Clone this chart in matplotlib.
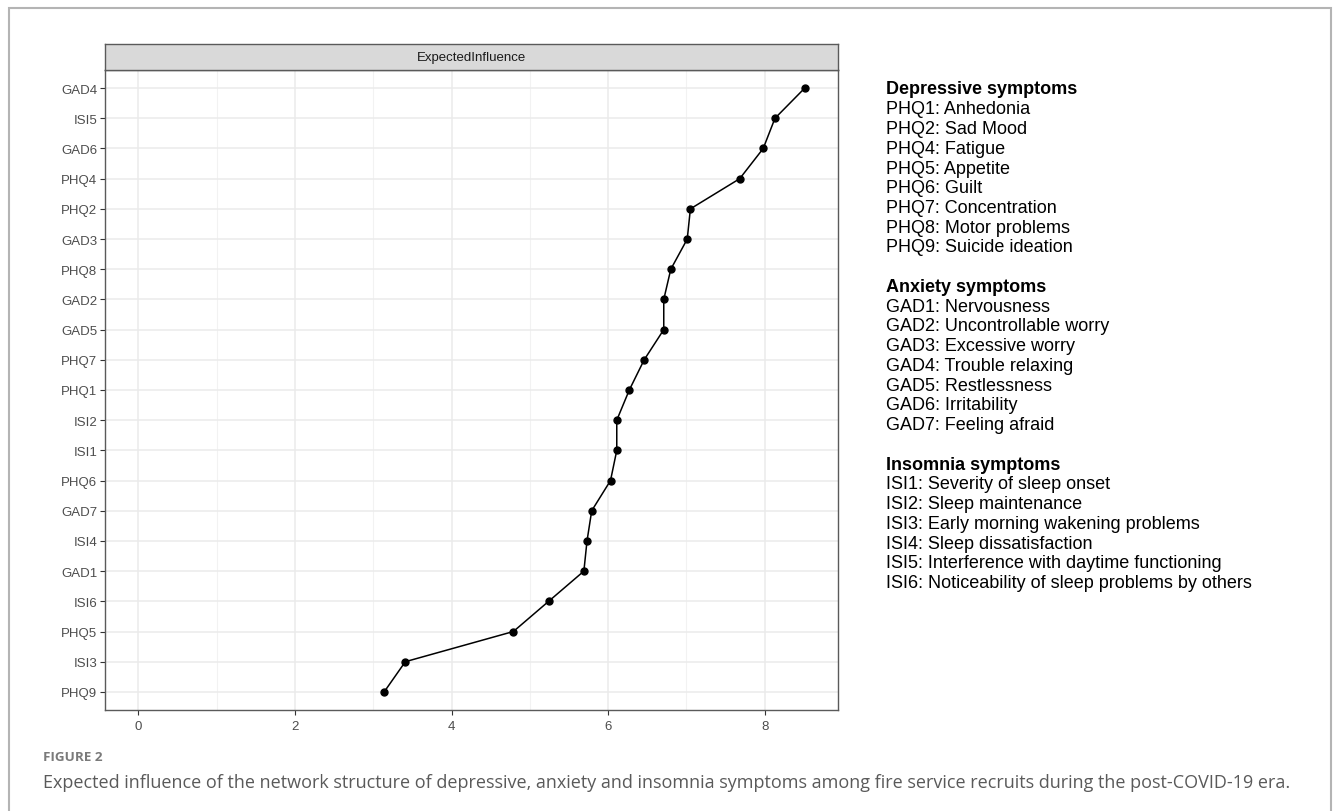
import matplotlib.pyplot as plt
from matplotlib.patches import Rectangle

# node order from bottom to top, as in the figure
nodes = ["PHQ9", "ISI3", "PHQ5", "ISI6", "GAD1", "ISI4", "GAD7", "PHQ6", "ISI1", "ISI2",
         "PHQ1", "PHQ7", "GAD5", "GAD2", "PHQ8", "GAD3", "PHQ2", "PHQ4", "GAD6", "ISI5", "GAD4"]
influence = [3.14, 3.41, 4.79, 5.24, 5.69, 5.73, 5.79, 6.03, 6.11, 6.11,
             6.27, 6.46, 6.71, 6.71, 6.80, 7.01, 7.05, 7.68, 7.98, 8.13, 8.51]

x_ticks = [0, 2, 4, 6, 8]
x_minor = [1, 3, 5, 7]

legend_groups = [
    ("Depressive symptoms", ["PHQ1: Anhedonia", "PHQ2: Sad Mood", "PHQ4: Fatigue", "PHQ5: Appetite",
                             "PHQ6: Guilt", "PHQ7: Concentration", "PHQ8: Motor problems",
                             "PHQ9: Suicide ideation"]),
    ("Anxiety symptoms", ["GAD1: Nervousness", "GAD2: Uncontrollable worry", "GAD3: Excessive worry",
                          "GAD4: Trouble relaxing", "GAD5: Restlessness", "GAD6: Irritability",
                          "GAD7: Feeling afraid"]),
    ("Insomnia symptoms", ["ISI1: Severity of sleep onset", "ISI2: Sleep maintenance",
                           "ISI3: Early morning wakening problems", "ISI4: Sleep dissatisfaction",
                           "ISI5: Interference with daytime functioning",
                           "ISI6: Noticeability of sleep problems by others"]),
]

caption_label = "FIGURE 2"
caption = ("Expected influence of the network structure of depressive, anxiety and insomnia "
           "symptoms among fire service recruits during the post-COVID-19 era.")

W, H = 1333, 812
fig = plt.figure(figsize=(W / 100, H / 100), dpi=100)

# outer frame of the figure box
fig.patches.append(Rectangle((9 / W, -0.01), (1331 - 9) / W, (H - 9) / H + 0.01,
                             transform=fig.transFigure, fill=False, edgecolor="#b4b4b4", linewidth=1.5))

ax = fig.add_axes([105 / W, 1 - 711 / H, (838 - 105) / W, (711 - 71) / H])
ypos = list(range(len(nodes)))
ax.plot(influence, ypos, color="black", linewidth=1.1, marker="o", markersize=5, zorder=3)

ax.set_xlim(-0.425, 8.935)
ax.set_ylim(-0.6, len(nodes) - 1 + 0.6)
ax.set_yticks(ypos)
ax.set_yticklabels(nodes)
ax.set_xticks(x_ticks)
ax.set_xticks(x_minor, minor=True)
ax.grid(True, which="major", color="#ebebeb", linewidth=1.1, zorder=0)
ax.grid(True, which="minor", axis="x", color="#f2f2f2", linewidth=0.8, zorder=0)
ax.tick_params(axis="both", which="major", labelsize=9.5, labelcolor="#4d4d4d",
               color="#333333", length=3.5, width=0.8, pad=2)
ax.tick_params(axis="both", which="minor", length=0)
ax.tick_params(axis="x", pad=4)
for sp in ax.spines.values():
    sp.set_color("#5a5a5a")
    sp.set_linewidth(1.0)
for lab in ax.get_xticklabels() + ax.get_yticklabels():
    lab.set_fontfamily("Liberation Sans")

# facet strip
strip = fig.add_axes([105 / W, 1 - 71 / H, (838 - 105) / W, 26 / H])
strip.set_facecolor("#d9d9d9")
strip.set_xticks([])
strip.set_yticks([])
for sp in strip.spines.values():
    sp.set_color("#5a5a5a")
    sp.set_linewidth(1.0)
strip.text(0.5, 0.5, "ExpectedInfluence", ha="center", va="center", fontsize=9.5,
           color="#1a1a1a", family="Liberation Sans", transform=strip.transAxes)

# symptom key on the right
x0 = 886 / W
y = 90
step = 19.75
for i, (head, items) in enumerate(legend_groups):
    fig.text(x0, 1 - y / H, head, ha="left", va="center", fontsize=13, fontweight="bold",
             family="Liberation Sans", color="black")
    y += step
    for item in items:
        fig.text(x0, 1 - y / H, item, ha="left", va="center", fontsize=13,
                 family="Liberation Sans", color="black")
        y += step
    y += step

# caption
fig.text(43 / W, 1 - 758 / H, caption_label, ha="left", va="center", fontsize=9.7,
         fontweight="bold", family="Open Sans", color="#7a7a7a")
fig.text(43 / W, 1 - 783 / H, caption, ha="left", va="center", fontsize=12.95,
         family="Open Sans", color="#5a5a5a")

fig.savefig("out.png", dpi=100, facecolor="white")
